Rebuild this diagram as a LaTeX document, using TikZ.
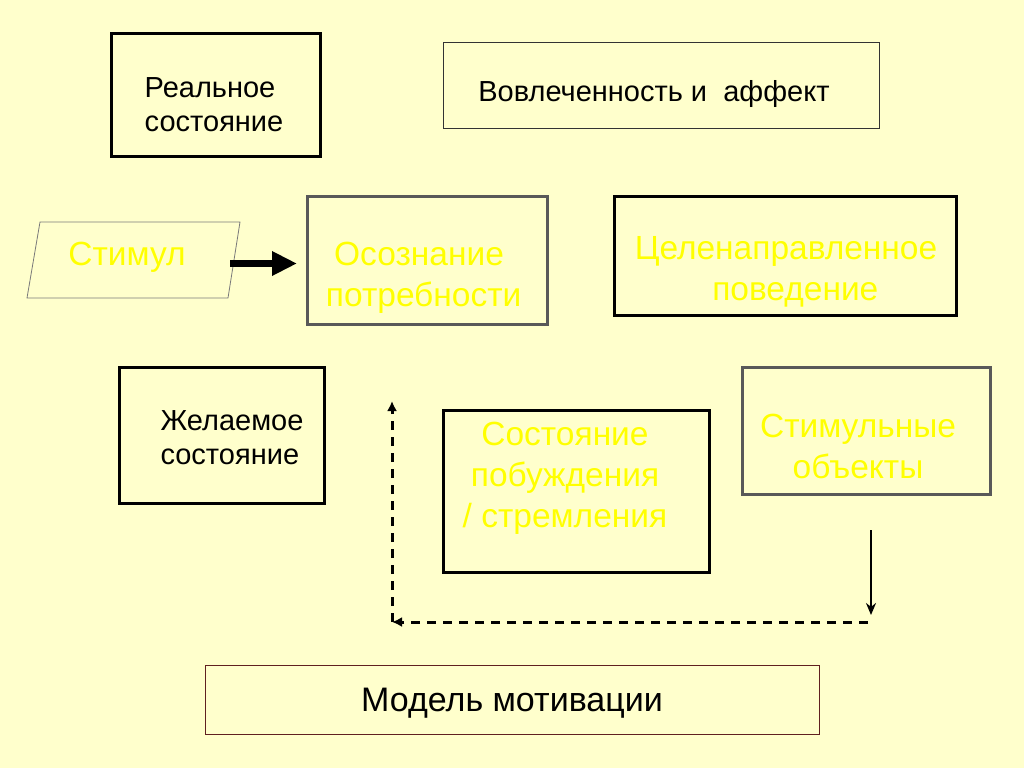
\documentclass[tikz,border=0pt]{standalone}
\usepackage{fontspec}
\setmainfont{Liberation Sans}
\usetikzlibrary{arrows.meta}
\definecolor{bgc}{HTML}{FFFFCC}
\definecolor{ylw}{HTML}{FFFF00}
\definecolor{grb}{HTML}{595959}
\definecolor{dkb}{HTML}{333333}
\definecolor{rdb}{HTML}{602020}
\tikzset{
  blackbox/.style={draw=black, line width=3pt, rectangle, inner sep=0pt},
  graybox/.style={draw=grb, line width=3pt, rectangle, inner sep=0pt},
  thinbox/.style={draw=dkb, line width=1pt, rectangle, inner sep=0pt},
  blacktxt/.style={text=black, font=\fontsize{29}{34}\selectfont, inner sep=0pt},
  yellowtxt/.style={text=ylw, font=\fontsize{33.5}{41}\selectfont, inner sep=0pt, align=center},
  dasharrow/.style={line width=3pt, dash pattern=on 9pt off 7pt, -{Latex[length=10pt,width=10pt]}},
}
\begin{document}
\begin{tikzpicture}[x=1pt, y=-1pt]
\fill[bgc] (0,0) rectangle (1024,768);
\useasboundingbox (0,0) rectangle (1024,768);

% boxes
\node[blackbox, minimum width=209pt, minimum height=122pt] (real) at (215.5,95) {};
\node[thinbox, minimum width=436pt, minimum height=85pt] (vovl) at (661,85.5) {};
\node[graybox, minimum width=240pt, minimum height=128pt] (osoz) at (427,260) {};
\node[blackbox, minimum width=342pt, minimum height=119pt] (celen) at (785,255.5) {};
\node[blackbox, minimum width=205pt, minimum height=136pt] (zhel) at (221.5,435) {};
\node[blackbox, minimum width=266pt, minimum height=162pt] (sost) at (576,491) {};
\node[graybox, minimum width=248pt, minimum height=127pt] (stob) at (866,430.5) {};
\node[draw=rdb, line width=1pt, rectangle, inner sep=0pt, minimum width=614pt, minimum height=69pt] (model) at (512,699.5) {};

% parallelogram
\draw[draw=grb!80, line width=0.8pt] (40,222) -- (240,222) -- (228,298) -- (27,298) -- cycle;

% texts
\node[blacktxt, align=left] (realT) at (214,105) {Реальное\\состояние};
\node[blacktxt] (vovlT) at (654,94) {Вовлеченность и\ \ аффект};
\node[yellowtxt] (stimT) at (127,257) {Стимул};
\node[yellowtxt] (osozT) at (419,278) {Осознание\\ \ потребности};
\node[yellowtxt] (celenT) at (786,272) {Целенаправленное\\ \ \ поведение};
\node[blacktxt, align=left] (zhelT) at (232,438) {Желаемое\\состояние};
\node[yellowtxt] (sostT) at (565,478) {Состояние\\побуждения\\/ стремления};
\node[yellowtxt] (stobT) at (858,446) {Стимульные\\объекты};
\node[text=black, font=\fontsize{34}{40}\selectfont, inner sep=0pt] (modelT) at (512,703) {Модель мотивации};

% connectors
\coordinate (stimR) at (230,263.5);
\coordinate (osozIn) at (297,263.5);
\draw[line width=7pt, -{Triangle[length=25pt,width=23pt]}] (stimR) -- (osozIn);

\coordinate (sA) at (871,530);
\coordinate (sB) at (871,615);
\draw[line width=2.5pt, -{Stealth[length=12pt,width=10pt]}] (sA) -- (sB);

\coordinate (hA) at (868,622);
\coordinate (hB) at (392,622);
\draw[dasharrow] (hA) -- (hB);

\coordinate (vA) at (392,622);
\coordinate (vB) at (392,401);
\draw[dasharrow] (vA) -- (vB);
\end{tikzpicture}
\end{document}
